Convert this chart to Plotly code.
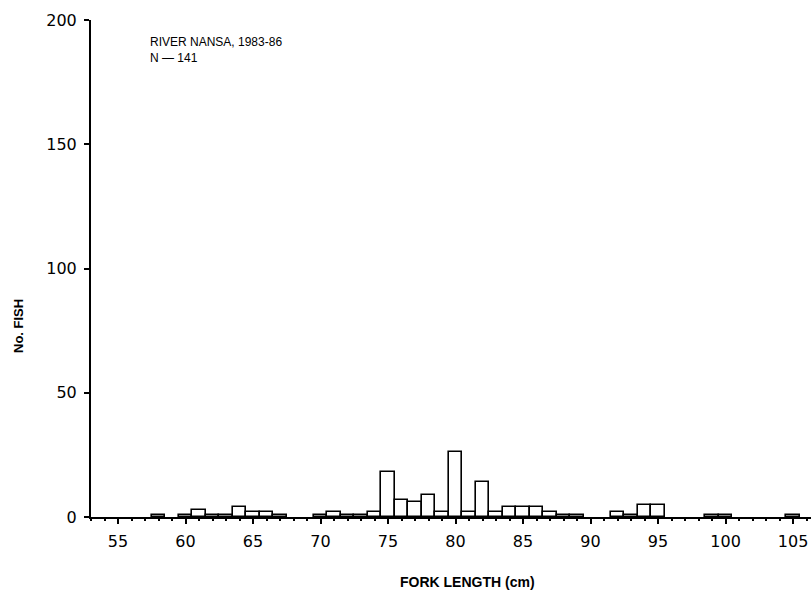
import plotly.graph_objects as go

# Fork length classes (cm) and number of fish in each class
fork_length = [58, 60, 61, 62, 63, 64, 65, 66, 67, 70, 71, 72, 73, 74,
               75, 76, 77, 78, 79, 80, 81, 82, 83, 84, 85, 86, 87, 88, 89,
               92, 93, 94, 95, 99, 100, 105]
n_fish = [1, 1, 3, 1, 1, 4, 2, 2, 1, 1, 2, 1, 1, 2,
          18, 7, 6, 9, 2, 26, 2, 14, 2, 4, 4, 4, 2, 1, 1,
          2, 1, 5, 5, 1, 1, 1]

x_ticks = [55, 60, 65, 70, 75, 80, 85, 90, 95, 100, 105]
y_ticks = [0, 50, 100, 150, 200]

title_lines = ["RIVER NANSA, 1983-86", "N \u2014 141"]
x_title = "FORK LENGTH (cm)"
y_title = "No. FISH"

fig = go.Figure()
fig.add_trace(go.Bar(
    x=fork_length, y=n_fish, width=1.0,
    marker=dict(color="white", line=dict(color="black", width=1.6)),
    showlegend=False,
))

tick_font = dict(family="DejaVu Sans", size=16, color="black")

fig.update_layout(
    width=811, height=595,
    margin=dict(l=91, r=0, t=20, b=78),
    plot_bgcolor="white", paper_bgcolor="white",
    bargap=0,
    xaxis=dict(
        range=[53, 106.33], tickvals=x_ticks, ticks="outside", ticklen=5,
        tickwidth=1.5, tickcolor="black", showline=True, linecolor="black",
        linewidth=2, showgrid=False, zeroline=False, tickfont=tick_font,
        ticklabelstandoff=4,
        minor=dict(dtick=1, ticks="outside", ticklen=2, tickcolor="black"),
    ),
    yaxis=dict(
        range=[0, 200], tickvals=y_ticks, ticks="outside", ticklen=5,
        tickwidth=1.5, tickcolor="black", showline=True, linecolor="black",
        linewidth=2, showgrid=False, zeroline=False, tickfont=tick_font,
        ticklabelstandoff=4,
    ),
    annotations=[
        dict(text="<br>".join(title_lines), xref="paper", yref="paper",
             x=(148 - 91) / 720, y=(595 - 78 - 33) / 497, xanchor="left",
             yanchor="top", align="left", showarrow=False,
             font=dict(family="Liberation Sans", size=12, color="black")),
        dict(text="<b>" + x_title + "</b>", xref="paper", yref="paper",
             x=(467 - 91) / 720, y=-(582 - 517) / 497, xanchor="center",
             yanchor="middle", showarrow=False,
             font=dict(family="Liberation Sans", size=14, color="black")),
        dict(text="<b>" + y_title + "</b>", xref="paper", yref="paper",
             x=-(91 - 18) / 720, y=(517 - 326) / 497, xanchor="center",
             yanchor="middle", textangle=-90, showarrow=False,
             font=dict(family="Liberation Sans", size=13, color="black")),
    ],
)

fig.write_html("out.html")
